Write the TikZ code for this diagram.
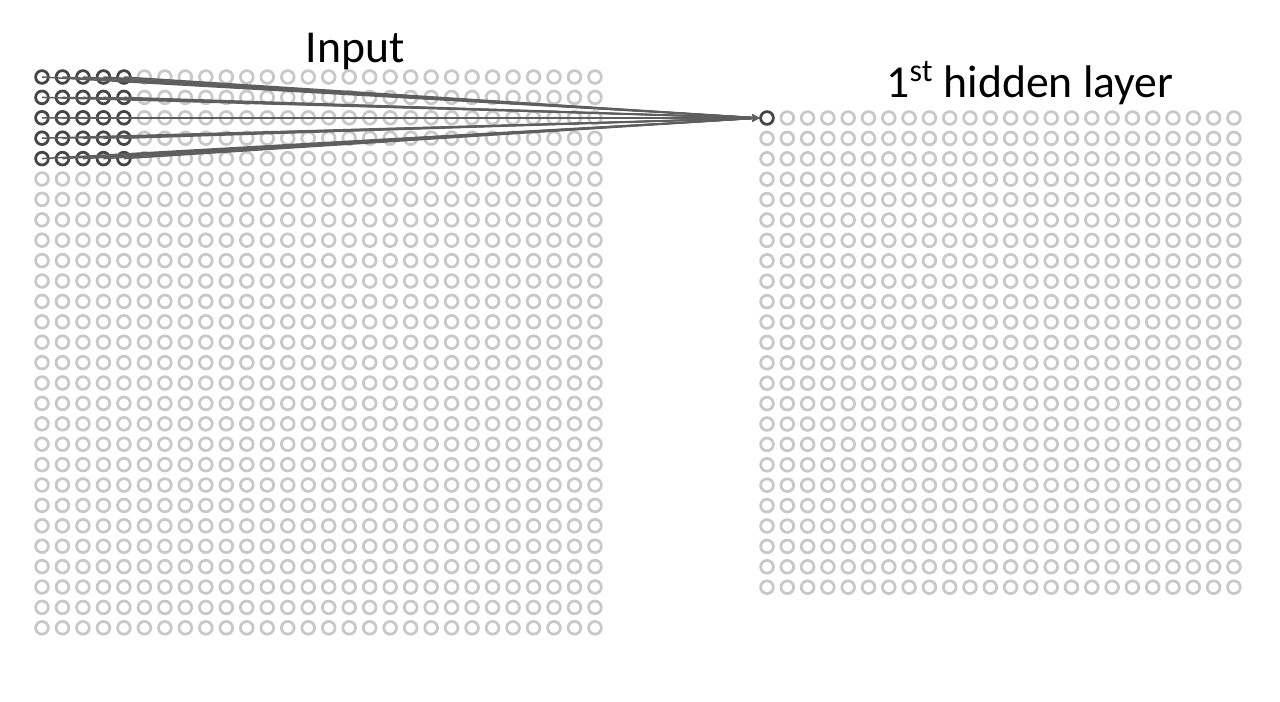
\documentclass[tikz,border=0pt]{standalone}
\usepackage{fontspec}
\setmainfont{Carlito}
\usetikzlibrary{arrows.meta}
\definecolor{lightring}{HTML}{C8C8C8}
\definecolor{darkring}{HTML}{454545}
\definecolor{linegray}{HTML}{5E5E5E}
\begin{document}
\begin{tikzpicture}[x=0.02cm,y=-0.02cm,
  cell/.style={circle, line width=0.055cm, minimum size=0.255cm, inner sep=0pt},
  conn/.style={draw=linegray, line width=0.03cm, -{Stealth[length=0.14cm,width=0.13cm]}},
  lbl/.style={font=\fontsize{26}{30}\selectfont, anchor=base, inner sep=0pt}]
\useasboundingbox (0,0) rectangle (1280,701);
% input grid
\foreach \r in {1,...,28}{
  \foreach \c in {1,...,28}{
    \def\rc{lightring}
    \ifnum\r<6 \ifnum\c<6 \def\rc{darkring}\fi\fi
    \node[cell, draw=\rc] (i-\r-\c) at ({42+(\c-1)*20.48},{77+(\r-1)*20.4}) {};
  }
}
% hidden grid
\foreach \r in {1,...,24}{
  \foreach \c in {1,...,24}{
    \def\rc{lightring}
    \ifnum\r=1 \ifnum\c=1 \def\rc{darkring}\fi\fi
    \node[cell, draw=\rc] (h-\r-\c) at ({767+(\c-1)*20.3},{118+(\r-1)*20.4}) {};
  }
}
% connections
\foreach \r in {1,...,5}{
  \foreach \c in {1,...,5}{
    \draw[conn] (i-\r-\c.center) -- (h-1-1.west);
  }
}
\node[lbl] (tin) at (355,62) {Input};
\node[lbl] (thid) at (1030,97) {1\textsuperscript{st} hidden layer};
\end{tikzpicture}
\end{document}
